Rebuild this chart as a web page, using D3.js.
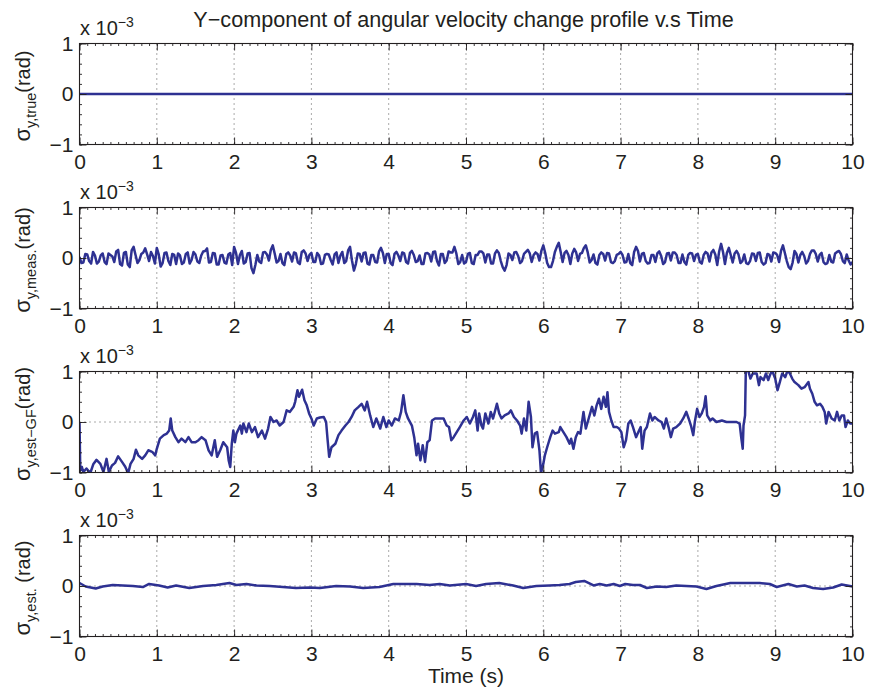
<!DOCTYPE html>
<html>
<head>
<meta charset="utf-8">
<script src="https://cdn.jsdelivr.net/npm/d3@7"></script>
<style>
  html, body { margin: 0; padding: 0; background: #fff; }
  svg { display: block; font-family: "Liberation Sans", Arial, Helvetica, sans-serif; }
</style>
</head>
<body>
<svg id="chart" width="869" height="689"></svg>
<script>
// ---- labels and ticks ----
const chartTitle = "Y\u2212component of angular velocity change profile v.s Time";
const xAxisLabel = "Time (s)";
const xTickValues = [0, 1, 2, 3, 4, 5, 6, 7, 8, 9, 10];
const yTickValues = [-1, 0, 1];
const scaleBase = "x 10";
const scaleExponent = "\u22123";
const panelSubscripts = ["y,true", "y,meas.", "y,est\u2212GF", "y,est."];
const panelUnits = ["(rad)", "(rad)", "(rad)", " (rad)"];

// ---- series (values in units of 1e-3 rad) ----
// true profile: identically zero
const trueSeries = [[0, 0], [2.5, 0], [5, 0], [7.5, 0], [10, 0]];

// measured: sampled every 0.025 s from 0 to 10 s (one row per second)
const measStep = 0.025;
const measValues = [
  0.02,-0.10,-0.09,0.08,0.07,-0.06,-0.11,0.12,0.05,-0.11,-0.07,0.05,0.09,-0.08,-0.12,0.09,0.06,0.03,-0.08,0.13,0.16,-0.12,-0.15,0.10,0.12,-0.13,-0.18,0.15,0.22,0.06,-0.10,-0.04,0.08,0.11,0.19,0.07,-0.06,0.12,0.04,-0.11,
  0.20,0.07,-0.17,-0.10,0.10,0.11,-0.06,-0.14,0.08,0.06,-0.12,0.09,0.05,-0.12,-0.09,0.08,0.11,-0.11,-0.04,0.12,0.07,-0.07,-0.10,0.05,0.13,0.14,0.19,-0.09,-0.08,0.10,0.09,-0.13,-0.13,0.05,0.06,-0.09,-0.11,0.07,0.10,-0.14,
  0.22,0.10,-0.12,0.06,0.14,-0.11,-0.08,0.09,0.10,-0.20,-0.30,-0.14,0.06,-0.07,-0.10,0.11,0.12,0.07,-0.05,0.16,0.25,0.09,-0.09,-0.06,0.08,-0.10,-0.14,0.08,0.11,0.05,-0.07,0.11,0.09,-0.09,-0.12,0.12,0.15,0.09,-0.06,0.06,
  0.10,-0.08,-0.08,0.10,0.05,-0.12,-0.11,0.06,0.08,0.07,-0.04,-0.13,0.07,0.11,-0.10,0.05,0.12,-0.10,-0.06,0.15,0.22,-0.05,-0.25,-0.12,0.09,0.08,-0.07,0.10,0.11,-0.11,-0.13,0.06,0.06,-0.08,-0.09,0.13,0.20,0.10,-0.10,0.08,
  0.08,-0.10,-0.14,0.08,0.12,0.05,-0.06,0.11,0.09,-0.08,-0.11,0.10,0.14,0.06,-0.08,-0.06,0.05,-0.12,-0.12,0.09,0.10,0.07,-0.07,0.12,0.13,-0.06,-0.15,0.08,0.08,-0.10,-0.05,0.13,0.11,0.11,0.22,0.09,-0.12,-0.08,0.06,-0.11,
  -0.08,0.08,0.10,-0.10,-0.12,0.06,0.06,0.13,0.13,0.09,-0.09,0.07,0.07,-0.11,-0.11,0.09,0.15,0.10,-0.06,-0.18,-0.25,-0.14,0.09,0.06,-0.04,0.11,0.12,0.04,-0.10,-0.06,0.08,0.12,0.16,0.09,-0.08,0.06,0.11,0.08,-0.05,0.14,
  0.25,0.10,-0.10,-0.18,-0.18,-0.06,0.12,0.22,0.30,0.12,-0.08,0.10,0.14,0.06,-0.12,0.09,0.18,0.11,-0.06,0.08,0.10,0.20,0.25,0.11,-0.09,-0.04,0.07,-0.10,-0.13,0.06,0.11,0.08,-0.05,0.10,0.09,-0.08,-0.10,-0.06,0.06,0.08,
  0.12,0.06,-0.09,-0.08,0.08,-0.10,-0.14,0.12,0.22,0.14,-0.07,0.08,0.10,-0.06,-0.11,-0.10,0.06,0.06,-0.08,0.09,0.13,0.04,-0.12,-0.08,0.09,0.10,-0.05,0.11,0.11,0.06,-0.10,-0.10,0.07,-0.08,-0.13,0.06,0.10,0.09,-0.06,0.06,
  0.08,-0.08,-0.11,0.06,0.12,0.09,-0.07,0.11,0.16,0.07,-0.14,0.13,0.28,0.12,-0.12,0.10,0.20,0.06,-0.09,0.09,0.14,0.07,-0.10,-0.06,0.07,-0.10,-0.12,-0.06,0.09,0.08,-0.06,0.10,0.11,-0.08,-0.13,-0.10,0.08,0.06,-0.07,0.11,
  0.10,0.06,-0.08,0.14,0.25,0.10,-0.06,-0.18,-0.22,-0.09,0.14,0.08,-0.09,0.06,0.12,0.04,-0.11,-0.06,0.08,0.15,0.15,0.08,-0.07,0.06,0.10,-0.08,-0.12,-0.10,0.06,-0.07,-0.09,0.09,0.12,0.14,0.08,-0.06,-0.10,0.07,-0.05,-0.13,
  -0.08
];
const measSeries = measValues.map((v, i) => [i * measStep, v]);

// estimate without the filter correction: [time s, value]
const gfSeries = [
  [0.00, 0.00], [0.01, -0.96], [0.03, -0.89], [0.05, -0.99], [0.09, -0.92], [0.14, -1.01], [0.18, -0.83], [0.22, -0.75],
  [0.27, -0.83], [0.31, -0.99], [0.35, -0.73], [0.38, -0.99], [0.42, -0.86], [0.46, -0.81], [0.50, -0.68], [0.55, -0.79],
  [0.59, -0.88], [0.63, -1.01], [0.66, -0.83], [0.70, -0.73], [0.73, -0.55], [0.76, -0.66], [0.81, -0.73], [0.85, -0.66],
  [0.89, -0.56], [0.94, -0.59], [0.98, -0.66], [1.00, -0.53], [1.04, -0.33], [1.09, -0.26], [1.13, -0.23], [1.16, -0.17],
  [1.18, 0.07], [1.20, -0.17], [1.24, -0.30], [1.28, -0.40], [1.32, -0.33], [1.37, -0.40], [1.41, -0.30], [1.45, -0.40],
  [1.50, -0.40], [1.54, -0.36], [1.58, -0.30], [1.63, -0.36], [1.67, -0.56], [1.71, -0.66], [1.75, -0.36], [1.78, -0.69],
  [1.82, -0.56], [1.86, -0.40], [1.91, -0.50], [1.93, -0.76], [1.95, -0.89], [1.97, -0.43], [1.99, -0.17], [2.01, -0.40],
  [2.03, -0.23], [2.08, -0.07], [2.10, -0.23], [2.12, -0.03], [2.16, -0.20], [2.19, -0.03], [2.23, -0.20], [2.27, -0.10],
  [2.31, -0.30], [2.36, -0.17], [2.40, -0.33], [2.44, -0.13], [2.47, 0.10], [2.51, 0.00], [2.55, 0.03], [2.59, -0.07],
  [2.64, 0.00], [2.68, 0.23], [2.72, 0.20], [2.77, 0.30], [2.79, 0.40], [2.82, 0.63], [2.84, 0.50], [2.88, 0.64],
  [2.91, 0.43], [2.94, 0.33], [2.97, 0.17], [3.00, 0.07], [3.03, -0.07], [3.07, 0.07], [3.11, 0.09], [3.16, 0.10],
  [3.19, 0.00], [3.21, -0.36], [3.23, -0.69], [3.26, -0.50], [3.31, -0.43], [3.35, -0.26], [3.39, -0.17], [3.44, -0.07],
  [3.48, 0.00], [3.52, 0.10], [3.56, 0.23], [3.61, 0.30], [3.65, 0.36], [3.69, 0.23], [3.72, 0.40], [3.76, 0.13],
  [3.80, -0.10], [3.84, 0.07], [3.89, -0.13], [3.93, 0.10], [3.97, -0.10], [4.00, 0.03], [4.04, -0.07], [4.08, 0.07],
  [4.13, 0.03], [4.16, 0.20], [4.19, 0.53], [4.22, 0.20], [4.25, 0.07], [4.30, -0.07], [4.33, -0.30], [4.36, -0.66],
  [4.38, -0.43], [4.41, -0.76], [4.44, -0.46], [4.47, -0.79], [4.50, -0.40], [4.53, -0.36], [4.56, 0.03], [4.60, 0.07],
  [4.66, 0.07], [4.71, 0.07], [4.75, -0.07], [4.78, -0.10], [4.81, -0.36], [4.84, -0.30], [4.88, -0.20], [4.92, -0.10],
  [4.97, 0.03], [5.01, 0.10], [5.05, -0.03], [5.09, 0.10], [5.12, 0.23], [5.15, -0.17], [5.17, 0.17], [5.20, -0.07],
  [5.22, -0.13], [5.25, 0.17], [5.29, -0.03], [5.32, 0.20], [5.35, 0.07], [5.40, 0.36], [5.43, 0.17], [5.46, 0.07],
  [5.50, 0.13], [5.55, 0.17], [5.58, 0.23], [5.62, 0.10], [5.66, 0.03], [5.70, -0.07], [5.72, -0.23], [5.75, 0.07],
  [5.78, -0.17], [5.81, 0.40], [5.84, 0.10], [5.86, -0.50], [5.89, -0.23], [5.92, -0.20], [5.95, -0.56], [5.97, -1.01],
  [6.00, -0.83], [6.02, -0.66], [6.05, -0.50], [6.09, -0.30], [6.12, -0.17], [6.15, -0.23], [6.20, -0.20], [6.22, -0.10],
  [6.26, -0.20], [6.30, -0.30], [6.34, -0.43], [6.36, -0.33], [6.39, -0.53], [6.42, -0.30], [6.45, -0.20], [6.48, -0.23],
  [6.52, 0.20], [6.55, -0.13], [6.58, 0.03], [6.63, 0.30], [6.66, 0.13], [6.69, 0.33], [6.72, 0.46], [6.75, 0.26],
  [6.78, 0.50], [6.81, 0.30], [6.83, 0.59], [6.85, 0.20], [6.88, 0.03], [6.91, -0.10], [6.95, -0.10], [6.98, -0.13],
  [7.01, -0.20], [7.04, -0.50], [7.07, -0.36], [7.10, -0.03], [7.13, 0.03], [7.16, -0.10], [7.20, -0.30], [7.23, -0.20],
  [7.26, -0.10], [7.28, -0.53], [7.31, -0.17], [7.34, -0.10], [7.38, 0.17], [7.41, 0.03], [7.44, 0.10], [7.49, 0.03],
  [7.53, 0.00], [7.56, -0.13], [7.59, 0.07], [7.62, -0.10], [7.65, -0.30], [7.68, -0.13], [7.72, -0.10], [7.77, -0.03],
  [7.81, 0.07], [7.85, 0.20], [7.88, 0.07], [7.91, -0.07], [7.94, -0.26], [7.96, 0.00], [7.99, 0.26], [8.02, 0.10],
  [8.05, 0.17], [8.08, 0.30], [8.10, 0.51], [8.12, 0.13], [8.16, 0.03], [8.19, 0.07], [8.24, 0.00], [8.31, 0.03],
  [8.37, 0.00], [8.44, 0.00], [8.50, 0.00], [8.54, -0.03], [8.56, -0.30], [8.58, -0.53], [8.59, -0.07], [8.61, 0.13],
  [8.62, 1.03], [8.65, 1.02], [8.68, 0.86], [8.71, 0.96], [8.76, 0.96], [8.79, 0.73], [8.81, 0.89], [8.85, 0.83],
  [8.88, 0.96], [8.91, 0.83], [8.93, 0.92], [8.96, 1.02], [9.00, 0.86], [9.03, 0.63], [9.06, 0.79], [9.09, 0.96],
  [9.13, 0.89], [9.16, 1.02], [9.19, 0.96], [9.22, 0.86], [9.25, 0.79], [9.30, 0.73], [9.34, 0.66], [9.38, 0.69],
  [9.43, 0.79], [9.45, 0.66], [9.48, 0.56], [9.51, 0.40], [9.54, 0.33], [9.58, 0.36], [9.61, 0.30], [9.64, 0.20],
  [9.66, -0.03], [9.69, 0.20], [9.73, 0.07], [9.77, 0.03], [9.80, 0.20], [9.83, 0.03], [9.86, 0.13], [9.89, 0.13],
  [9.91, -0.10], [9.94, 0.03], [9.97, -0.03], [10.00, -0.03]
];

// filtered estimate: [time s, value]
const estSeries = [
  [0.00, 0.06], [0.08, -0.01], [0.21, -0.05], [0.30, -0.01], [0.43, 0.02], [0.56, 0.01], [0.69, 0.00], [0.82, -0.02],
  [0.90, 0.04], [1.03, 0.01], [1.14, -0.03], [1.25, 0.01], [1.42, -0.04], [1.60, 0.00], [1.77, 0.02], [1.94, 0.06],
  [2.03, 0.02], [2.16, 0.04], [2.29, 0.01], [2.46, 0.00], [2.63, -0.02], [2.80, -0.04], [2.98, -0.03], [3.11, -0.04],
  [3.32, 0.00], [3.50, -0.01], [3.67, -0.04], [3.88, -0.02], [4.06, 0.04], [4.23, 0.04], [4.36, 0.04], [4.53, 0.02],
  [4.66, 0.04], [4.79, 0.01], [5.00, 0.04], [5.13, 0.00], [5.26, 0.04], [5.43, 0.06], [5.61, 0.01], [5.74, -0.04],
  [5.91, 0.00], [6.08, 0.01], [6.21, 0.02], [6.34, 0.04], [6.42, 0.08], [6.53, 0.10], [6.65, 0.01], [6.73, 0.04],
  [6.82, 0.01], [6.91, 0.04], [6.99, 0.00], [7.06, 0.04], [7.16, 0.02], [7.25, 0.02], [7.34, -0.04], [7.47, -0.01],
  [7.59, -0.02], [7.72, 0.01], [7.85, 0.00], [7.98, -0.01], [8.11, -0.06], [8.24, 0.00], [8.42, 0.06], [8.63, 0.06],
  [8.80, 0.06], [8.93, 0.04], [9.02, -0.02], [9.17, 0.04], [9.28, -0.01], [9.38, 0.01], [9.49, -0.04], [9.62, -0.06],
  [9.75, -0.03], [9.86, 0.03], [10.00, -0.01]
];

const panelSeries = [trueSeries, measSeries, gfSeries, estSeries];

// ---- layout & style ----
const ink = "#231f20";
const lineColor = "#2e3192";
const fontSize = 21;
const panelTop0 = 43.5, panelStep = 164, panelH = 101;

const svg = d3.select("#chart");
const x = d3.scaleLinear().domain([0, 10]).range([79.5, 852.5]);
const xMinor = d3.range(0, 10.0001, 0.1).map(v => +v.toFixed(1));
const yMinor = d3.range(-1, 1.0001, 0.2).map(v => +v.toFixed(1));

svg.append("text")
  .attr("x", 463.5).attr("y", 27)
  .attr("text-anchor", "middle")
  .attr("font-size", 21.6)
  .attr("fill", ink)
  .text(chartTitle);

const line = d3.line().x(d => x(d[0]));

panelSeries.forEach((series, i) => {
  const top = panelTop0 + panelStep * i;
  const y = d3.scaleLinear().domain([-1, 1]).range([top + panelH, top]);
  const g = svg.append("g");

  svg.append("clipPath").attr("id", "plot-clip-" + i)
    .append("rect")
    .attr("x", x(0)).attr("y", top)
    .attr("width", x(10) - x(0)).attr("height", panelH);

  // dotted grid
  g.append("g").selectAll("line")
    .data(xTickValues.slice(1, -1))
    .join("line")
    .attr("x1", d => x(d)).attr("x2", d => x(d))
    .attr("y1", top).attr("y2", top + panelH)
    .attr("stroke", "#555").attr("stroke-width", 1)
    .attr("stroke-dasharray", "1,4");
  g.append("g").selectAll("line")
    .data(yTickValues.slice(1, -1))
    .join("line")
    .attr("x1", x(0)).attr("x2", x(10))
    .attr("y1", d => y(d)).attr("y2", d => y(d))
    .attr("stroke", "#555").attr("stroke-width", 1)
    .attr("stroke-dasharray", "1,4");

  // data trace
  g.append("path")
    .datum(series)
    .attr("clip-path", "url(#plot-clip-" + i + ")")
    .attr("fill", "none")
    .attr("stroke", lineColor)
    .attr("stroke-width", 2.5)
    .attr("stroke-linejoin", "round")
    .attr("d", line.y(d => y(d[1])));

  // axes: ticks pointing inward
  const fmt = d => d < 0 ? "\u2212" + Math.abs(d) : String(d);
  g.append("g").attr("transform", `translate(0,${top + panelH})`)
    .call(d3.axisBottom(x).tickValues(xTickValues).tickSize(-7).tickPadding(10).tickFormat(fmt));
  g.append("g").attr("transform", `translate(0,${top})`)
    .call(d3.axisTop(x).tickValues(xTickValues).tickSize(-7).tickFormat(""));
  g.append("g").attr("transform", `translate(${x(0)},0)`)
    .call(d3.axisLeft(y).tickValues(yTickValues).tickSize(-7).tickPadding(6).tickFormat(fmt));
  g.append("g").attr("transform", `translate(${x(10)},0)`)
    .call(d3.axisRight(y).tickValues(yTickValues).tickSize(-7).tickFormat(""));
  // minor ticks
  g.append("g").attr("transform", `translate(0,${top + panelH})`)
    .call(d3.axisBottom(x).tickValues(xMinor).tickSize(-2.5).tickFormat(""));
  g.append("g").attr("transform", `translate(0,${top})`)
    .call(d3.axisTop(x).tickValues(xMinor).tickSize(-2.5).tickFormat(""));
  g.append("g").attr("transform", `translate(${x(0)},0)`)
    .call(d3.axisLeft(y).tickValues(yMinor).tickSize(-2.5).tickFormat(""));
  g.append("g").attr("transform", `translate(${x(10)},0)`)
    .call(d3.axisRight(y).tickValues(yMinor).tickSize(-2.5).tickFormat(""));

  g.selectAll(".domain").remove();
  g.selectAll(".tick line").attr("stroke", ink).attr("stroke-width", 0.9);
  g.selectAll(".tick text")
    .attr("fill", ink)
    .attr("font-size", fontSize)
    .attr("font-family", "'Liberation Sans', Arial, Helvetica, sans-serif");

  // box
  g.append("rect")
    .attr("x", x(0)).attr("y", top)
    .attr("width", x(10) - x(0)).attr("height", panelH)
    .attr("fill", "none").attr("stroke", ink).attr("stroke-width", 1.1);

  // exponent note
  const note = g.append("text")
    .attr("x", x(0) + 0.5).attr("y", top - 9)
    .attr("fill", ink).attr("font-size", 20);
  note.append("tspan").text(scaleBase);
  note.append("tspan").attr("font-size", 14).attr("dy", -8).text(scaleExponent);

  // y label
  const lab = g.append("text")
    .attr("transform", `translate(30,${top + panelH / 2 + 2}) rotate(-90)`)
    .attr("text-anchor", "middle")
    .attr("fill", ink).attr("font-size", 20);
  lab.append("tspan").attr("font-size", 22).text("\u03c3");
  lab.append("tspan").attr("font-size", 14.5).attr("dy", 6).text(panelSubscripts[i]);
  lab.append("tspan").attr("dy", -6).style("white-space", "pre").text(panelUnits[i]);
});

svg.append("text")
  .attr("x", 466).attr("y", 683)
  .attr("text-anchor", "middle")
  .attr("fill", ink).attr("font-size", fontSize)
  .text(xAxisLabel);
</script>
</body>
</html>
